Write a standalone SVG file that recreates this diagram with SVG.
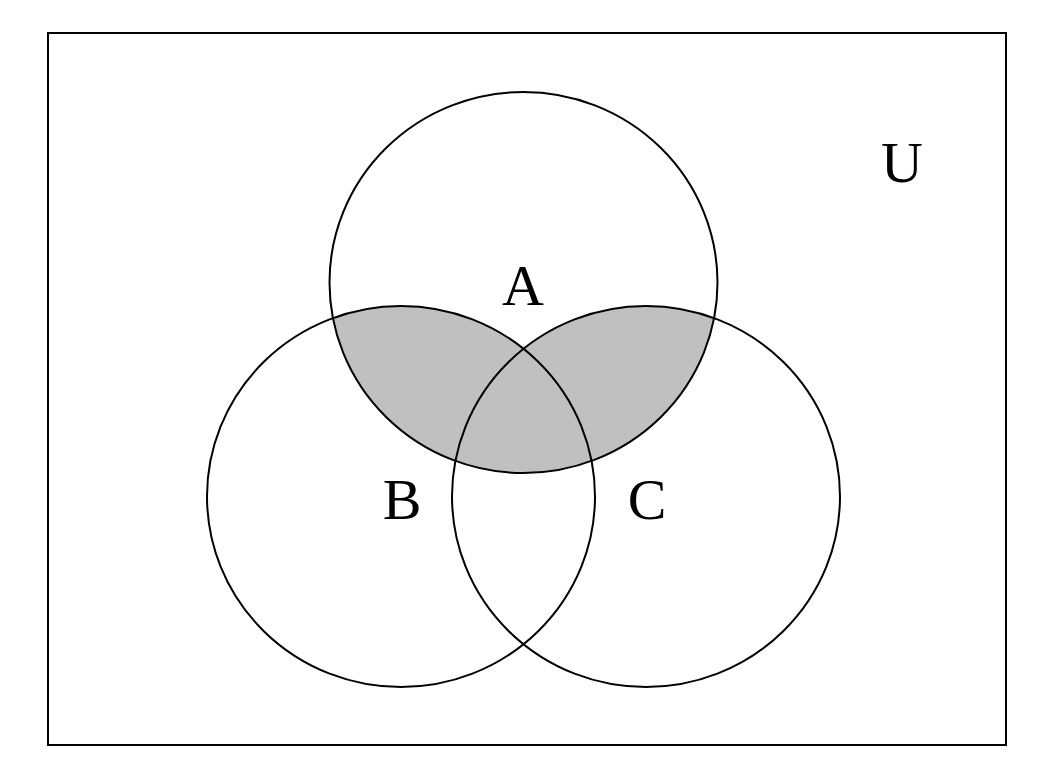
<svg xmlns="http://www.w3.org/2000/svg" width="1053" height="775" viewBox="0 0 1053 775">
<style>
.set{fill:none;stroke:#000;stroke-width:2}
.lbl{font-family:"Liberation Serif",serif;font-size:58px;fill:#000;text-anchor:middle}
</style>
<defs>
<clipPath id="clipA"><ellipse cx="523.5" cy="282.5" rx="194" ry="190.5"/></clipPath>
</defs>
<rect x="0" y="0" width="1053" height="775" fill="#fff"/>
<g id="universe">
<rect x="48" y="33" width="958" height="712" fill="none" stroke="#000" stroke-width="2"/>
<text class="lbl" x="902" y="182">U</text>
</g>
<g id="shading" clip-path="url(#clipA)" fill="#c0c0c0">
<ellipse cx="401" cy="496.5" rx="194" ry="190.5"/>
<ellipse cx="646" cy="496.5" rx="194" ry="190.5"/>
</g>
<g id="setA">
<ellipse class="set" cx="523.5" cy="282.5" rx="194" ry="190.5"/>
<text class="lbl" x="523" y="305">A</text>
</g>
<g id="setB">
<ellipse class="set" cx="401" cy="496.5" rx="194" ry="190.5"/>
<text class="lbl" x="402" y="519">B</text>
</g>
<g id="setC">
<ellipse class="set" cx="646" cy="496.5" rx="194" ry="190.5"/>
<text class="lbl" x="647" y="519">C</text>
</g>
</svg>
